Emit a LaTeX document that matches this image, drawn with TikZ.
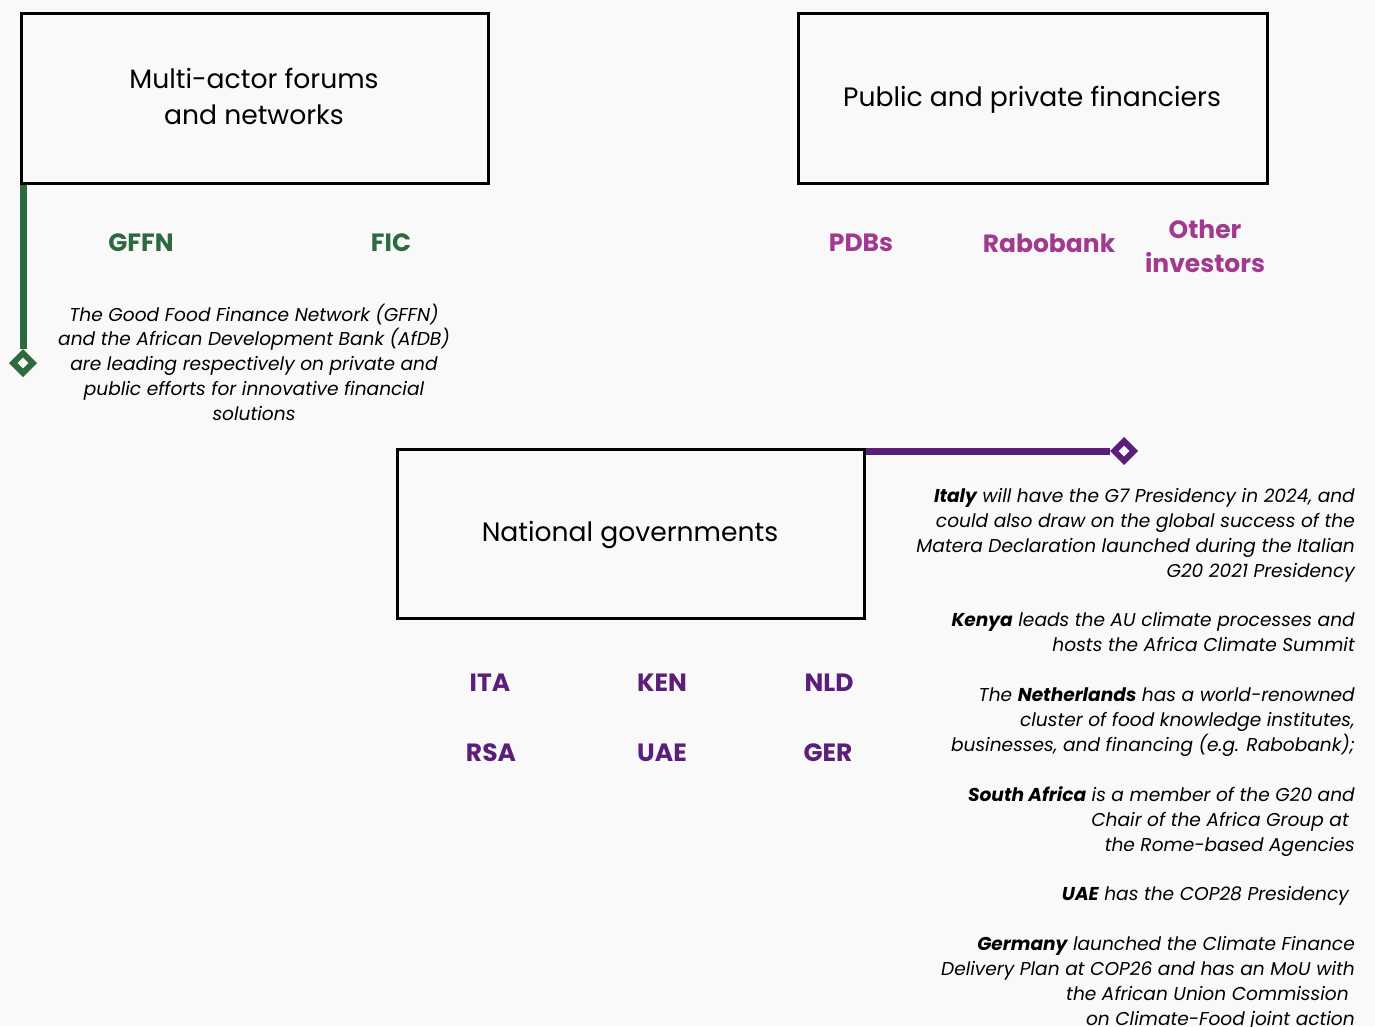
\documentclass[tikz,border=0pt]{standalone}
\usepackage{fontspec}
\setmainfont{Poppins}
\usetikzlibrary{shapes.geometric}
\definecolor{bg}{HTML}{F9F9F9}
\definecolor{ggreen}{HTML}{2D6A3E}
\definecolor{gpurple}{HTML}{5B1F7B}
\definecolor{gmag}{HTML}{A1398F}
\newcommand{\trailsp}{\mbox{\hspace{6pt}}}
\begin{document}
\begin{tikzpicture}[x=1pt,y=-1pt,
  box/.style={draw=black,line width=3pt,minimum width=#1,inner sep=0pt},
  boxtitle/.style={font=\fontsize{26.6}{36}\selectfont,align=center},
  tag/.style={font=\fontsize{25}{34}\selectfont\bfseries,align=center,inner sep=0pt},
  note/.style={font=\fontsize{18.6}{24.9}\selectfont\itshape,inner sep=0pt},
  marker/.style={diamond,draw=#1,line width=6pt,fill=bg,inner sep=0pt,minimum width=22pt,minimum height=22pt}]
\fill[bg] (0,0) rectangle (1375,1026);
\useasboundingbox (0,0) rectangle (1375,1026);
% boxes
\node[box,minimum width=467pt,minimum height=170pt] (box1) at (254.5,98) {};
\node[boxtitle] (t1) at (254,96) {Multi-actor forums\\ and networks};
\node[box,minimum width=469pt,minimum height=170pt] (box2) at (1032.5,98) {};
\node[boxtitle] (t2) at (1032,100) {Public and private financiers};
\node[box,minimum width=467pt,minimum height=169pt] (box3) at (630.5,533.5) {};
\node[boxtitle] (t3) at (630,535) {National governments};
% markers and connectors
\node[marker=ggreen] (d1) at (23,363) {};
\draw[ggreen,line width=7pt] (d1 |- box1.south) -- (d1.north);
\node[marker=gpurple] (d2) at (1124,451) {};
\draw[gpurple,line width=7pt] (box3.east |- d2) -- (d2.west);
% tags
\node[tag,text=ggreen] (gffn) at (141,243) {GFFN};
\node[tag,text=ggreen] (fic) at (391,243) {FIC};
\node[tag,text=gmag] (pdb) at (861,243) {PDBs};
\node[tag,text=gmag] (rabo) at (1049,243) {Rabobank};
\node[tag,text=gmag] (oth) at (1205,246) {Other\\investors};
\node[tag,text=gpurple] (ita) at (490,683) {ITA};
\node[tag,text=gpurple] (ken) at (662,683) {KEN};
\node[tag,text=gpurple] (nld) at (829,683) {NLD};
\node[tag,text=gpurple] (rsa) at (491,753) {RSA};
\node[tag,text=gpurple] (uae) at (662,753) {UAE};
\node[tag,text=gpurple] (ger) at (828,753) {GER};
% notes
\node[note,align=center,anchor=north] (n0) at (254,303.5) {The Good Food Finance Network (GFFN)\\and the African Development Bank (AfDB)\\are leading respectively on private and\\public efforts for innovative financial\\solutions};
\node[note,align=right,anchor=north east] (n1) at (1355,488.5) {\textbf{Italy} will have the G7 Presidency in 2024, and\\could also draw on the global success of the\\Matera Declaration launched during the Italian\\G20 2021 Presidency};
\node[note,align=right,anchor=north east] (n2) at (1355,612.5) {\textbf{Kenya} leads the AU climate processes and\\hosts the Africa Climate Summit};
\node[note,align=right,anchor=north east] (n3) at (1355,687.5) {The \textbf{Netherlands} has a world-renowned\\cluster of food knowledge institutes,\\businesses, and financing (e.g. Rabobank);};
\node[note,align=right,anchor=north east] (n4) at (1355,786.5) {\textbf{South Africa} is a member of the G20 and\\Chair of the Africa Group at\trailsp\\the Rome-based Agencies};
\node[note,align=right,anchor=north east] (n5) at (1355,886.5) {\textbf{UAE} has the COP28 Presidency\trailsp};
\node[note,align=right,anchor=north east] (n6) at (1355,936) {\textbf{Germany} launched the Climate Finance\\Delivery Plan at COP26 and has an MoU with\\the African Union Commission\trailsp\\on Climate-Food joint action};
\end{tikzpicture}
\end{document}
